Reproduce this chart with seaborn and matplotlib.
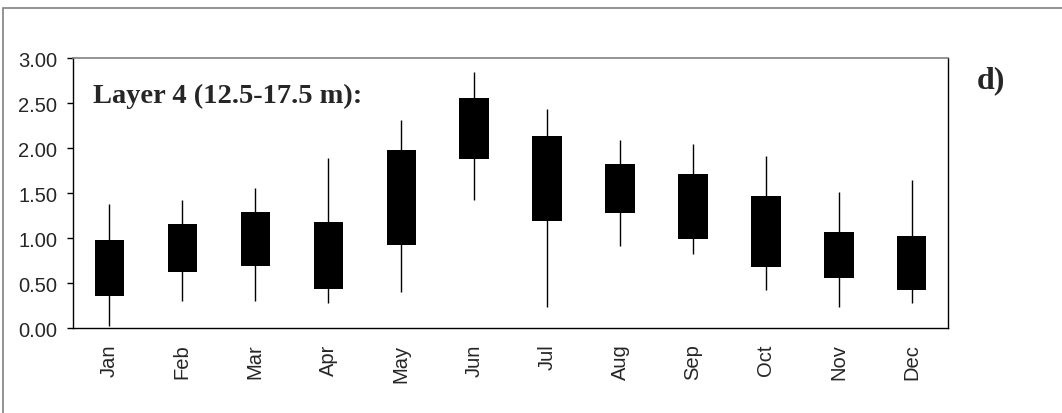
import numpy as np
import pandas as pd
import matplotlib
matplotlib.use("Agg")
import matplotlib.pyplot as plt
import seaborn as sns
from matplotlib.patches import Rectangle

# Monthly values (Layer 4, 12.5-17.5 m)
months = ["Jan", "Feb", "Mar", "Apr", "May", "Jun", "Jul", "Aug", "Sep", "Oct", "Nov", "Dec"]
whisker_low = [0.02, 0.30, 0.30, 0.28, 0.40, 1.42, 0.24, 0.91, 0.82, 0.42, 0.24, 0.28]
box_low = [0.36, 0.62, 0.69, 0.44, 0.93, 1.885, 1.19, 1.285, 0.99, 0.685, 0.555, 0.42]
box_high = [0.98, 1.16, 1.29, 1.18, 1.985, 2.56, 2.14, 1.825, 1.71, 1.47, 1.075, 1.02]
whisker_high = [1.38, 1.425, 1.555, 1.89, 2.31, 2.85, 2.44, 2.09, 2.045, 1.91, 1.51, 1.645]

df = pd.DataFrame({
    "month": months,
    "lo": whisker_low,
    "q1": box_low,
    "q3": box_high,
    "hi": whisker_high,
})
df["span"] = df["q3"] - df["q1"]

sns.set_theme(style="white")
plt.rcParams["font.family"] = ["Liberation Sans", "DejaVu Sans"]

fig = plt.figure(figsize=(10.62, 4.14), dpi=100)
ax = fig.add_axes([0.0685, 0.2046, 0.8245, 0.6522])

# whiskers
ax.vlines(np.arange(len(df)), df["lo"], df["hi"], color="black", lw=1, zorder=2)

# boxes
sns.barplot(data=df, x="month", y="span", bottom=df["q1"], color="black",
            width=0.4, saturation=1, edgecolor="black", linewidth=0,
            ax=ax, zorder=3)

ax.set_ylim(0, 3.0)
ax.set_xlim(-0.5, len(df) - 0.5)
yt = np.arange(0, 3.01, 0.5)
ax.set_yticks(yt)
ax.set_yticklabels([f"{v:.2f}" for v in yt], fontsize=14.5)
ax.set_xticks(range(len(df)))
ax.set_xticklabels(months, rotation=90, fontsize=14.5)
ax.set_xticks(np.arange(-0.5, len(df)), minor=True)
ax.tick_params(axis="x", which="major", length=0, pad=11)
ax.tick_params(axis="x", which="minor", direction="inout", length=8.5, width=1, color="black")
ax.tick_params(axis="y", which="major", direction="out", length=4, width=1, color="black", pad=7, left=True)
ax.set_xlabel("")
ax.set_ylabel("")

for s in ["left", "bottom", "right"]:
    ax.spines[s].set_color("black")
    ax.spines[s].set_linewidth(1)
ax.spines["top"].set_color("#808080")
ax.spines["top"].set_linewidth(1.2)

ax.text(0.023, 0.838, "Layer 4 (12.5-17.5 m):", transform=ax.transAxes,
        family=["Liberation Serif", "DejaVu Serif"], fontweight="bold", fontsize=20.5,
        va="baseline", ha="left")
fig.text(977 / 1062, 1 - 88 / 414, "d)", family=["Liberation Serif", "DejaVu Serif"],
         fontweight="bold", fontsize=23, va="baseline", ha="left")

# outer frame
fig.patches.append(Rectangle((3 / 1062, -0.05), 1.1, 1 - 9 / 414 + 0.05,
                             transform=fig.transFigure, fill=False,
                             edgecolor="#808080", lw=1.2))

fig.savefig("out.png", dpi=100)
